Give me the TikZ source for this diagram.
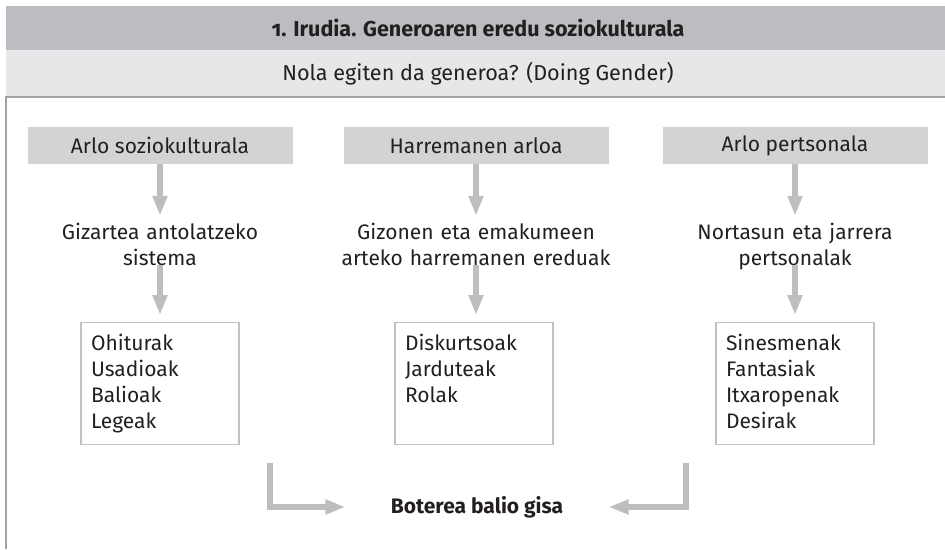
\documentclass[tikz,border=0pt]{standalone}
\usepackage{fontspec}
\setmainfont{Fira Sans}
\usetikzlibrary{arrows.meta}
\definecolor{bandgray}{RGB}{188,189,192}
\definecolor{subgray}{RGB}{230,231,232}
\definecolor{headgray}{RGB}{209,211,212}
\definecolor{arrowgray}{RGB}{188,190,192}
\definecolor{boxgray}{RGB}{192,193,196}
\definecolor{framegray}{RGB}{160,162,165}
\definecolor{inkgray}{RGB}{35,31,32}
\begin{document}
\begin{tikzpicture}[x=1pt,y=-1pt,
    font=\fontsize{21}{26}\selectfont, text=inkgray,
    head/.style={fill=headgray, minimum width=265pt, minimum height=37pt, inner sep=0pt},
    mid/.style={align=center, text width=280pt, inner sep=0pt, text height=15pt, text depth=26pt, anchor=base},
    lst/.style={draw=boxgray, line width=1.2pt, align=left, text width=138pt, inner xsep=10pt, inner ysep=6pt, text height=22pt, text depth=88pt, anchor=north},
    garrow/.style={draw=arrowgray, line width=6pt, -{Triangle[width=14pt,length=20pt]}}]
    \useasboundingbox (0,0) rectangle (945,549);
    \fill[bandgray] (6,6) rectangle (945,50); \fill[subgray] (6,50) rectangle (945,97);
    \draw[framegray, line width=1.5pt] (6,549) |- (945,97);
    \node[font=\fontsize{21.5}{25}\selectfont\bfseries] (title) at (478,28) {{\addfontfeature{Numbers=OldStyle}1.} Irudia. Generoaren eredu soziokulturala};
    \node[font=\fontsize{21.6}{26}\selectfont] (sub) at (478,74) {Nola egiten da generoa? (Doing Gender)};
    % three columns
    \node[head] (h1) at (160,145.5) {Arlo soziokulturala};
    \node[head] (h2) at (476,145.5) {Harremanen arloa};
    \node[head] (h3) at (795,145.5) {Arlo pertsonala};
    \node[mid] (m1) at (160,239) {Gizartea antolatzeko\\sistema};
    \node[mid] (m2) at (476,239) {Gizonen eta emakumeen\\arteko harremanen ereduak};
    \node[mid] (m3) at (795,239) {Nortasun eta jarrera\\pertsonalak};
    \node[lst] (b1) at (160,322) {Ohiturak\\Usadioak\\Balioak\\Legeak};
    \node[lst] (b2) at (474,322) {Diskurtsoak\\Jarduteak\\Rolak};
    \node[lst] (b3) at (795,322) {Sinesmenak\\Fantasiak\\Itxaropenak\\Desirak};
    \foreach \i in {1,2,3} {
        \draw[garrow, shorten >=8pt] (h\i.south) -- (m\i.north);
        \draw[garrow, shorten >=7pt] (m\i.south) -- (m\i.south |- b\i.north);
    }
    % power
    \node[font=\fontsize{21}{26}\selectfont\bfseries] (pow) at (477,507) {Boterea balio gisa};
    \coordinate (l1) at (270,463); \coordinate (r1) at (686,463);
    \draw[garrow, shorten >=42pt] (l1) |- (pow);
    \draw[garrow, shorten >=42pt] (r1) |- (pow);
\end{tikzpicture}
\end{document}
